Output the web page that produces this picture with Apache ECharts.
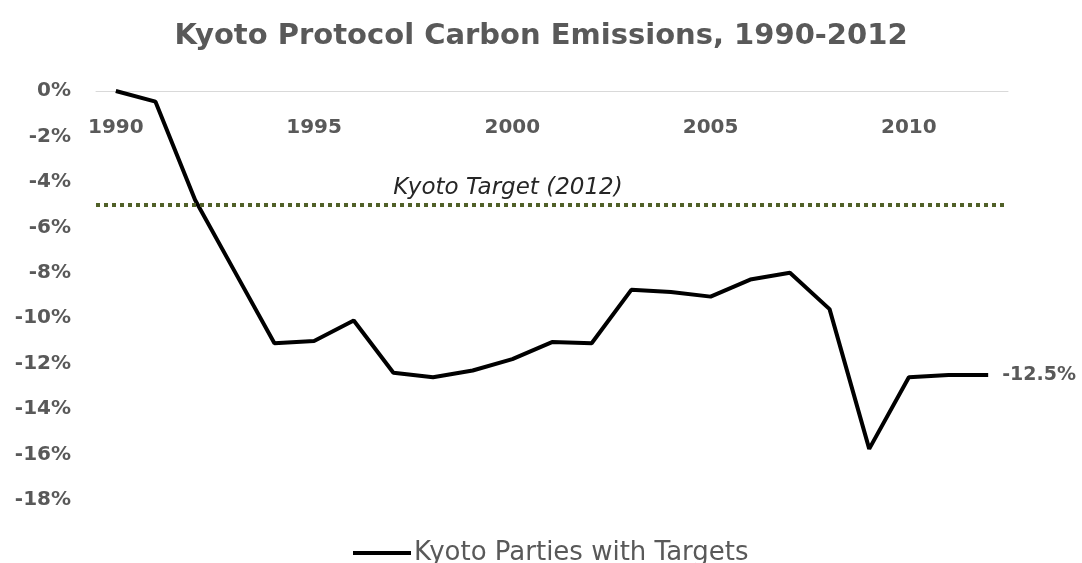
<!DOCTYPE html>
<html>
<head>
<meta charset="utf-8">
<script src="https://cdn.jsdelivr.net/npm/echarts@6/dist/echarts.min.js"></script>
<style>html,body{margin:0;padding:0;background:#fff;}#c{width:1082px;height:563px;}</style>
</head>
<body>
<div id="c"></div>
<script>
const years = ['1990','1991','1992','1993','1994','1995','1996','1997','1998','1999','2000','2001','2002','2003','2004','2005','2006','2007','2008','2009','2010','2011','2012'];
const emissions = [0, -0.47, -4.8, -7.95, -11.1, -11.0, -10.1, -12.4, -12.6, -12.3, -11.8, -11.05, -11.1, -8.75, -8.85, -9.05, -8.3, -8.0, -9.6, -15.75, -12.6, -12.5, -12.5];
const targetValue = -5;
const targetLabel = 'Kyoto Target (2012)';
const seriesName = 'Kyoto Parties with Targets';
const yTicks = { min: -18, max: 0, interval: 2 };

const FONT = '"DejaVu Sans", "Open Sans", sans-serif';
const GRAY = '#595959';
const chart = echarts.init(document.getElementById('c'));
chart.setOption({
  animation: false,
  backgroundColor: '#fff',
  title: {
    text: 'Kyoto Protocol Carbon Emissions, 1990-2012',
    left: 'center', top: 17,
    textStyle: { fontFamily: FONT, fontSize: 29, fontWeight: 'bold', color: GRAY }
  },
  grid: { left: 96, right: 74, top: 91, bottom: 63 },
  legend: {
    top: 535, left: 348,
    icon: 'rect', itemWidth: 58, itemHeight: 4, itemGap: 4,
    textStyle: { fontFamily: FONT, fontSize: 26, color: GRAY, padding: [0, 0, 0, -2] },
    data: [seriesName]
  },
  xAxis: {
    type: 'category',
    position: 'top',
    data: years,
    boundaryGap: true,
    axisLine: { show: true, onZero: false, lineStyle: { color: '#d9d9d9', width: 1 } },
    axisTick: { show: false },
    axisLabel: { inside: true, interval: 4, margin: 27, fontFamily: FONT, fontSize: 20, fontWeight: 'bold', color: GRAY },
    splitLine: { show: false }
  },
  yAxis: {
    type: 'value',
    min: yTicks.min, max: yTicks.max, interval: yTicks.interval,
    axisLine: { show: false },
    axisTick: { show: false },
    splitLine: { show: false },
    axisLabel: { margin: 25, fontFamily: FONT, fontSize: 20, fontWeight: 'bold', color: GRAY, formatter: '{value}%' }
  },
  series: [{
    name: seriesName,
    type: 'line',
    data: emissions,
    symbol: 'none',
    lineStyle: { color: '#000', width: 4 },
    itemStyle: { color: '#000' },
    endLabel: {
      show: true, distance: 14,
      fontFamily: FONT, fontSize: 19, fontWeight: 'bold', color: GRAY,
      formatter: p => p.value.toFixed(1) + '%'
    },
    markLine: {
      silent: true, symbol: 'none',
      lineStyle: { color: '#506028', width: 4, type: [4, 4], cap: 'butt' },
      label: {
        show: true, position: 'insideMiddleTop', distance: 5, offset: [-44, 0],
        formatter: targetLabel,
        fontFamily: FONT, fontSize: 23, fontStyle: 'italic', color: '#262626'
      },
      data: [{ yAxis: targetValue }]
    }
  }]
});
</script>
</body>
</html>
